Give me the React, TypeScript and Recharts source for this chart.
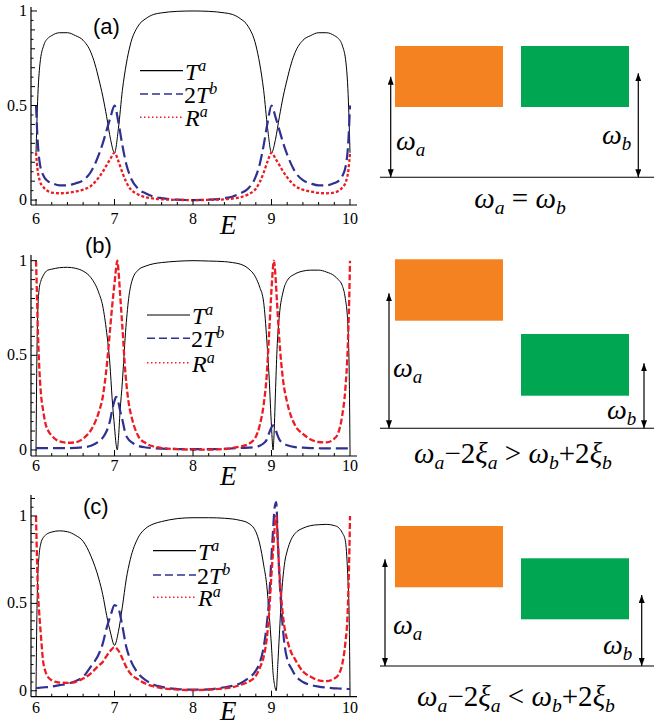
import React from "react";
import { Line, LineChart, XAxis, YAxis } from "recharts";

// ---- panel (a): omega_a = omega_b ----
const E_A = [6, 6.02, 6.05, 6.1, 6.15, 6.2, 6.3, 6.4, 6.5, 6.6, 6.7, 6.75, 6.8, 6.85, 6.9, 6.95, 7, 7.05, 7.1, 7.15, 7.2, 7.3, 7.4, 7.5, 7.6, 7.8, 8, 8.2, 8.4, 8.5, 8.6, 8.7, 8.8, 8.85, 8.9, 8.95, 9, 9.05, 9.1, 9.15, 9.2, 9.25, 9.3, 9.4, 9.5, 9.6, 9.7, 9.8, 9.85, 9.9, 9.95, 9.98, 10];
const TA_A = [0.25, 0.52, 0.72, 0.82, 0.855, 0.87, 0.885, 0.885, 0.87, 0.845, 0.78, 0.72, 0.64, 0.55, 0.44, 0.32, 0.25, 0.38, 0.58, 0.72, 0.82, 0.92, 0.96, 0.982, 0.99, 0.998, 1, 0.998, 0.99, 0.982, 0.96, 0.92, 0.82, 0.72, 0.58, 0.38, 0.25, 0.32, 0.44, 0.55, 0.64, 0.72, 0.78, 0.845, 0.87, 0.885, 0.885, 0.87, 0.855, 0.82, 0.72, 0.52, 0.25];
const TB_A = [0.5, 0.32, 0.19, 0.125, 0.1, 0.09, 0.078, 0.078, 0.088, 0.105, 0.15, 0.19, 0.24, 0.3, 0.37, 0.44, 0.5, 0.41, 0.29, 0.19, 0.125, 0.06, 0.035, 0.018, 0.01, 0.002, 0, 0.002, 0.01, 0.018, 0.035, 0.06, 0.125, 0.19, 0.29, 0.41, 0.5, 0.44, 0.37, 0.3, 0.24, 0.19, 0.15, 0.105, 0.088, 0.078, 0.078, 0.09, 0.1, 0.125, 0.19, 0.32, 0.5];
const RA_A = [0.25, 0.16, 0.1, 0.065, 0.048, 0.04, 0.036, 0.038, 0.045, 0.055, 0.075, 0.095, 0.12, 0.15, 0.185, 0.22, 0.25, 0.205, 0.145, 0.095, 0.06, 0.03, 0.015, 0.008, 0.004, 0.001, 0, 0.001, 0.004, 0.008, 0.015, 0.03, 0.06, 0.095, 0.145, 0.205, 0.25, 0.22, 0.185, 0.15, 0.12, 0.095, 0.075, 0.055, 0.045, 0.038, 0.036, 0.04, 0.048, 0.065, 0.1, 0.16, 0.25];

// ---- panel (b) ----
const E_B = [6, 6.01, 6.02, 6.04, 6.06, 6.09, 6.12, 6.15, 6.2, 6.3, 6.4, 6.5, 6.6, 6.7, 6.8, 6.85, 6.9, 6.94, 6.97, 7, 7.02, 7.035, 7.05, 7.07, 7.1, 7.14, 7.18, 7.22, 7.3, 7.4, 7.5, 7.6, 7.8, 8, 8.2, 8.4, 8.5, 8.6, 8.7, 8.8, 8.85, 8.9, 8.94, 8.97, 9, 9.02, 9.03, 9.05, 9.07, 9.1, 9.15, 9.2, 9.3, 9.4, 9.5, 9.6, 9.7, 9.8, 9.85, 9.9, 9.94, 9.97, 9.99, 10];
const TA_B = [0, 0.45, 0.7, 0.85, 0.89, 0.92, 0.94, 0.95, 0.955, 0.963, 0.965, 0.96, 0.945, 0.91, 0.83, 0.76, 0.62, 0.46, 0.27, 0.12, 0.03, 0, 0.06, 0.2, 0.36, 0.62, 0.8, 0.89, 0.95, 0.972, 0.984, 0.99, 0.997, 1, 0.998, 0.995, 0.99, 0.982, 0.96, 0.91, 0.86, 0.78, 0.58, 0.38, 0.12, 0, 0.06, 0.3, 0.53, 0.71, 0.84, 0.895, 0.93, 0.945, 0.95, 0.95, 0.94, 0.92, 0.9, 0.87, 0.8, 0.68, 0.4, 0];
const TB_B = [0.01, 0.01, 0.01, 0.01, 0.01, 0.01, 0.01, 0.01, 0.01, 0.01, 0.01, 0.011, 0.014, 0.022, 0.045, 0.065, 0.1, 0.15, 0.21, 0.26, 0.28, 0.275, 0.25, 0.21, 0.16, 0.085, 0.055, 0.04, 0.022, 0.013, 0.009, 0.007, 0.005, 0.004, 0.004, 0.006, 0.008, 0.01, 0.012, 0.016, 0.022, 0.035, 0.055, 0.09, 0.12, 0.13, 0.128, 0.11, 0.085, 0.055, 0.035, 0.025, 0.015, 0.012, 0.01, 0.009, 0.008, 0.008, 0.008, 0.008, 0.008, 0.008, 0.008, 0.008];
const RA_B = [1, 0.85, 0.68, 0.45, 0.31, 0.21, 0.14, 0.105, 0.075, 0.045, 0.038, 0.04, 0.06, 0.105, 0.2, 0.28, 0.44, 0.62, 0.76, 0.88, 0.96, 1, 0.95, 0.83, 0.65, 0.4, 0.25, 0.17, 0.075, 0.035, 0.018, 0.01, 0.004, 0.002, 0.002, 0.005, 0.01, 0.018, 0.03, 0.07, 0.13, 0.24, 0.4, 0.62, 0.85, 0.97, 1, 0.92, 0.78, 0.58, 0.36, 0.25, 0.13, 0.085, 0.055, 0.042, 0.04, 0.06, 0.09, 0.18, 0.32, 0.53, 0.8, 1];

// ---- panel (c) ----
const E_C = [6, 6.01, 6.02, 6.04, 6.06, 6.09, 6.12, 6.15, 6.2, 6.3, 6.4, 6.5, 6.6, 6.7, 6.8, 6.85, 6.9, 6.95, 7, 7.05, 7.1, 7.15, 7.2, 7.3, 7.4, 7.5, 7.6, 7.8, 8, 8.2, 8.4, 8.5, 8.6, 8.7, 8.8, 8.85, 8.9, 8.94, 8.97, 9, 9.02, 9.04, 9.06, 9.08, 9.1, 9.13, 9.17, 9.2, 9.25, 9.3, 9.4, 9.5, 9.6, 9.7, 9.8, 9.85, 9.9, 9.94, 9.97, 9.99, 10];
const TA_C = [0, 0.4, 0.62, 0.78, 0.84, 0.875, 0.89, 0.9, 0.908, 0.915, 0.91, 0.89, 0.855, 0.77, 0.64, 0.55, 0.43, 0.33, 0.26, 0.34, 0.48, 0.64, 0.75, 0.875, 0.93, 0.955, 0.968, 0.985, 0.99, 0.99, 0.987, 0.983, 0.975, 0.96, 0.91, 0.84, 0.72, 0.6, 0.44, 0.25, 0.1, 0.03, 0, 0.15, 0.32, 0.56, 0.74, 0.8, 0.865, 0.9, 0.93, 0.945, 0.95, 0.952, 0.945, 0.935, 0.905, 0.86, 0.67, 0.4, 0];
const TB_C = [0.015, 0.015, 0.016, 0.017, 0.018, 0.019, 0.02, 0.021, 0.024, 0.032, 0.04, 0.055, 0.08, 0.14, 0.21, 0.27, 0.36, 0.43, 0.49, 0.47, 0.37, 0.25, 0.18, 0.1, 0.06, 0.035, 0.022, 0.01, 0.006, 0.008, 0.02, 0.028, 0.042, 0.07, 0.115, 0.16, 0.25, 0.38, 0.53, 0.77, 0.92, 1.05, 1.08, 0.86, 0.66, 0.44, 0.25, 0.18, 0.13, 0.09, 0.05, 0.033, 0.024, 0.018, 0.014, 0.013, 0.012, 0.011, 0.01, 0.01, 0.01];
const RA_C = [1, 0.8, 0.62, 0.45, 0.33, 0.17, 0.11, 0.08, 0.06, 0.047, 0.045, 0.05, 0.07, 0.1, 0.145, 0.165, 0.2, 0.23, 0.25, 0.23, 0.185, 0.135, 0.1, 0.065, 0.04, 0.025, 0.015, 0.007, 0.004, 0.006, 0.014, 0.02, 0.033, 0.05, 0.085, 0.13, 0.195, 0.3, 0.45, 0.67, 0.8, 0.93, 1, 0.85, 0.68, 0.5, 0.35, 0.29, 0.22, 0.18, 0.11, 0.08, 0.06, 0.055, 0.07, 0.09, 0.15, 0.27, 0.45, 0.76, 1];

// ---- ticks ----
const X_TICKS = [6, 6.2, 6.4, 6.6, 6.8, 7, 7.2, 7.4, 7.6, 7.8, 8, 8.2, 8.4, 8.6, 8.8, 9, 9.2, 9.4, 9.6, 9.8, 10];
const Y_TICKS = [0, 0.05, 0.1, 0.15, 0.2, 0.25, 0.3, 0.35, 0.4, 0.45, 0.5, 0.55, 0.6, 0.65, 0.7, 0.75, 0.8, 0.85, 0.9, 0.95, 1];
const Y_TICKS_C = [...Y_TICKS, 1.05, 1.1];

const SERIF = "'Liberation Serif', 'Times New Roman', serif";
const SANS = "'Liberation Sans', Arial, sans-serif";
const BLUE = "#2E3192";
const RED = "#ED1C24";
const ORANGE = "#F58220";
const GREEN = "#00A651";

const build = (e: number[], t: number[], tb: number[], r: number[]) =>
  e.map((x, i) => ({ e: x, t: t[i], tb: tb[i], r: r[i] }));

const isInt = (v: number, k: number) => Math.abs(v * k - Math.round(v * k)) < 1e-6;

function XTick(props: any) {
  const { x, y, payload, labelDy } = props;
  const v = payload.value;
  const major = isInt(v, 1);
  return (
    <g>
      <line x1={x} x2={x} y1={y} y2={y - (major ? 6 : 3)} stroke="#000" strokeWidth={1} />
      {major && (
        <text x={x} y={y + labelDy} textAnchor="middle" fontFamily={SERIF} fontSize={16} fill="#000">
          {v}
        </text>
      )}
    </g>
  );
}

function YTick(props: any) {
  const { x, y, payload } = props;
  const v = payload.value;
  const len = isInt(v, 2) ? 6 : isInt(v, 10) ? 4 : 2.5;
  const label = isInt(v, 2) && v <= 1;
  return (
    <g>
      <line x1={x} x2={x + len} y1={y} y2={y} stroke="#000" strokeWidth={1} />
      {label && (
        <text x={x - 4} y={y + 5} textAnchor="end" fontFamily={SERIF} fontSize={16} fill="#000">
          {v}
        </text>
      )}
    </g>
  );
}

type PanelCfg = {
  top: number;
  height: number;
  plotTop: number;
  xAxisH: number;
  yDomain: [number, number];
  yTicks: number[];
  data: { e: number; t: number; tb: number; r: number }[];
  redDash: string;
  label: string;
  labelX: number;
  labelY: number;
  legendX: number;
  legendY: number[];
  xLabelDy: number;
  eLabelY: number;
};

const PANELS: PanelCfg[] = [
  {
    top: 0, height: 245, plotTop: 7, xAxisH: 40, yDomain: [-0.026, 1.021], yTicks: Y_TICKS,
    data: build(E_A, TA_A, TB_A, RA_A), redDash: "3 2", label: "(a)", labelX: 93, labelY: 34,
    legendX: 140, legendY: [70.7, 94, 117.3], xLabelDy: 19, eLabelY: 234,
  },
  {
    top: 245, height: 245, plotTop: 10, xAxisH: 34, yDomain: [-0.032, 1.03], yTicks: Y_TICKS,
    data: build(E_B, TA_B, TB_B, RA_B), redDash: "6 2.5", label: "(b)", labelX: 85, labelY: 8,
    legendX: 147, legendY: [70, 93.3, 117.7], xLabelDy: 15, eLabelY: 240,
  },
  {
    top: 490, height: 236, plotTop: 5, xAxisH: 29.3, yDomain: [-0.034, 1.12], yTicks: Y_TICKS_C,
    data: build(E_C, TA_C, TB_C, RA_C), redDash: "6 2.5", label: "(c)", labelX: 83, labelY: 24,
    legendX: 153, legendY: [60.7, 85, 107.3], xLabelDy: 16, eLabelY: 230,
  },
];

function Sup({ base, sup, pre }: { base: string; sup: string; pre?: string }) {
  return (
    <>
      {pre && <tspan fontStyle="normal">{pre}</tspan>}
      <tspan fontStyle="italic">{base}</tspan>
      <tspan fontStyle="italic" fontSize={16} dy={-9}>{sup}</tspan>
    </>
  );
}

function Panel({ cfg }: { cfg: PanelCfg }) {
  const W = 370;
  const lx = cfg.legendX;
  const tx = lx + 45;
  return (
    <div style={{ position: "absolute", left: 0, top: cfg.top, width: W, height: cfg.height }}>
      <LineChart width={W} height={cfg.height} data={cfg.data} margin={{ top: cfg.plotTop, right: 13, left: 0, bottom: 0 }}>
        <XAxis
          dataKey="e"
          type="number"
          domain={[5.936, 10.089]}
          ticks={X_TICKS}
          interval={0}
          allowDataOverflow
          height={cfg.xAxisH}
          tickSize={0}
          tickMargin={0}
          axisLine={{ stroke: "#000", strokeWidth: 1.2 }}
          tickLine={false}
          tick={(p: any) => <XTick {...p} labelDy={cfg.xLabelDy} />}
        />
        <YAxis
          type="number"
          domain={cfg.yDomain}
          ticks={cfg.yTicks}
          interval={0}
          allowDataOverflow
          width={31}
          tickSize={0}
          tickMargin={0}
          axisLine={{ stroke: "#000", strokeWidth: 1.2 }}
          tickLine={false}
          tick={(p: any) => <YTick {...p} />}
        />
        <Line type="monotone" dataKey="t" stroke="#000" strokeWidth={1} dot={false} isAnimationActive={false} />
        <Line type="monotone" dataKey="tb" stroke={BLUE} strokeWidth={2.2} strokeDasharray="12 5" dot={false} isAnimationActive={false} />
        <Line type="monotone" dataKey="r" stroke={RED} strokeWidth={2.3} strokeDasharray={cfg.redDash} dot={false} isAnimationActive={false} />
      </LineChart>
      <svg width={W} height={cfg.height} style={{ position: "absolute", left: 0, top: 0, pointerEvents: "none", overflow: "visible" }}>
        <text x={cfg.labelX} y={cfg.labelY} fontFamily={SANS} fontSize={22} fill="#000">{cfg.label}</text>
        <line x1={lx} x2={lx + 43} y1={cfg.legendY[0]} y2={cfg.legendY[0]} stroke="#000" strokeWidth={1.2} />
        <line x1={lx} x2={lx + 43} y1={cfg.legendY[1]} y2={cfg.legendY[1]} stroke={BLUE} strokeWidth={1.6} strokeDasharray="8 4" />
        <line x1={lx} x2={lx + 43} y1={cfg.legendY[2]} y2={cfg.legendY[2]} stroke={RED} strokeWidth={1.4} strokeDasharray="1.5 2.5" />
        <text x={tx} y={cfg.legendY[0] + 9} fontFamily={SERIF} fontSize={24} fill="#000"><Sup base="T" sup="a" /></text>
        <text x={tx - 1} y={cfg.legendY[1] + 9} fontFamily={SERIF} fontSize={24} fill="#000"><Sup pre="2" base="T" sup="b" /></text>
        <text x={tx} y={cfg.legendY[2] + 9} fontFamily={SERIF} fontSize={24} fill="#000"><Sup base="R" sup="a" /></text>
        <text x={220} y={cfg.eLabelY} fontFamily={SERIF} fontStyle="italic" fontSize={27} fill="#000">E</text>
      </svg>
    </div>
  );
}

type Tok = { s: string; it?: boolean; sub?: boolean };
const EQ_A: Tok[] = [{ s: "ω", it: true }, { s: "a", it: true, sub: true }, { s: " = " }, { s: "ω", it: true }, { s: "b", it: true, sub: true }];
const EQ_B: Tok[] = [
  { s: "ω", it: true }, { s: "a", it: true, sub: true }, { s: "−2" }, { s: "ξ", it: true }, { s: "a", it: true, sub: true },
  { s: " > " }, { s: "ω", it: true }, { s: "b", it: true, sub: true }, { s: "+2" }, { s: "ξ", it: true }, { s: "b", it: true, sub: true },
];
const EQ_C: Tok[] = EQ_B.map((t) => (t.s === " > " ? { s: " < " } : t));

function MathText({ x, y, toks, anchor = "start", size = 28 }: { x: number; y: number; toks: Tok[]; anchor?: string; size?: number }) {
  let shifted = false;
  return (
    <text x={x} y={y} textAnchor={anchor as any} fontFamily={SERIF} fontSize={size} fill="#000" xmlSpace="preserve">
      {toks.map((t, i) => {
        let dy = 0;
        if (t.sub && !shifted) { dy = 6; shifted = true; }
        else if (!t.sub && shifted) { dy = -6; shifted = false; }
        return (
          <tspan key={i} dy={dy} fontStyle={t.it ? "italic" : "normal"} fontSize={t.sub ? size * 0.68 : size}>
            {t.s}
          </tspan>
        );
      })}
    </text>
  );
}

type Diagram = {
  orange: [number, number, number, number];
  green: [number, number, number, number];
  base: number;
  left: [number, number];
  right: [number, number];
  wa: [number, number];
  wb: [number, number];
  eq: Tok[];
  eqX: number;
  eqY: number;
};

const DIAGRAMS: Diagram[] = [
  { orange: [395, 46, 108, 61], green: [521, 46, 108, 61], base: 177.3, left: [390.7, 76.7], right: [638.3, 73.3], wa: [396, 150], wb: [602, 144], eq: EQ_A, eqX: 520, eqY: 208 },
  { orange: [395, 259.3, 108, 61.4], green: [521, 334, 108, 61.7], base: 428.3, left: [389, 293.3], right: [644, 363.3], wa: [393, 377], wb: [607, 419], eq: EQ_B, eqX: 513, eqY: 463 },
  { orange: [395, 526, 108, 61.3], green: [521, 558.3, 108, 61], base: 666, left: [385, 559.3], right: [641.7, 595], wa: [393, 634], wb: [603, 654], eq: EQ_C, eqX: 516, eqY: 706 },
];

function Diagrams() {
  return (
    <svg width={654} height={726} style={{ position: "absolute", left: 0, top: 0, pointerEvents: "none" }}>
      <defs>
        <marker id="ah" viewBox="0 0 10 10" refX="10" refY="5" markerWidth="8" markerHeight="6" orient="auto-start-reverse" markerUnits="userSpaceOnUse" preserveAspectRatio="none">
          <path d="M0,0 L10,5 L0,10 z" fill="#000" />
        </marker>
      </defs>
      {DIAGRAMS.map((d, i) => (
        <g key={i}>
          <rect x={d.orange[0]} y={d.orange[1]} width={d.orange[2]} height={d.orange[3]} fill={ORANGE} />
          <rect x={d.green[0]} y={d.green[1]} width={d.green[2]} height={d.green[3]} fill={GREEN} />
          <line x1={380} x2={654} y1={d.base} y2={d.base} stroke="#000" strokeWidth={1.1} />
          <line x1={d.left[0]} x2={d.left[0]} y1={d.left[1]} y2={d.base} stroke="#000" strokeWidth={1.2} markerStart="url(#ah)" markerEnd="url(#ah)" />
          <line x1={d.right[0]} x2={d.right[0]} y1={d.right[1]} y2={d.base} stroke="#000" strokeWidth={1.2} markerStart="url(#ah)" markerEnd="url(#ah)" />
          <MathText x={d.wa[0]} y={d.wa[1]} toks={[{ s: "ω", it: true }, { s: "a", it: true, sub: true }]} />
          <MathText x={d.wb[0]} y={d.wb[1]} toks={[{ s: "ω", it: true }, { s: "b", it: true, sub: true }]} />
          <MathText x={d.eqX} y={d.eqY} toks={d.eq} anchor="middle" size={29} />
        </g>
      ))}
    </svg>
  );
}

export default function App() {
  return (
    <div style={{ position: "absolute", left: 0, top: 0, width: 654, height: 726, background: "#fff" }}>
      {PANELS.map((p, i) => (
        <Panel key={i} cfg={p} />
      ))}
      <Diagrams />
    </div>
  );
}
